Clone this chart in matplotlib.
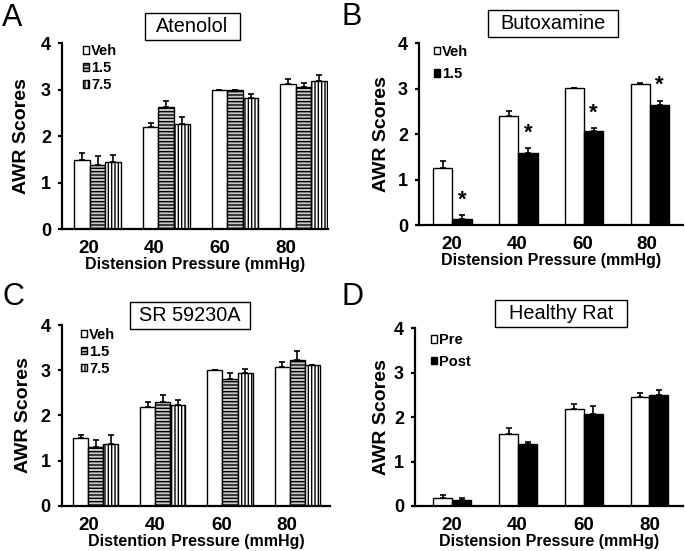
import numpy as np
import matplotlib
matplotlib.use("Agg")
import matplotlib.pyplot as plt
from matplotlib.patches import Rectangle

plt.rcParams['font.family'] = ['Liberation Sans', 'DejaVu Sans']
plt.rcParams['hatch.linewidth'] = 1.0

pressures = ["20", "40", "60", "80"]

# Panel A - Atenolol
aten_veh = [1.50, 2.19, 3.00, 3.12]
aten_veh_err = [0.15, 0.09, 0.0, 0.12]
aten_15 = [1.38, 2.62, 3.00, 3.07]
aten_15_err = [0.20, 0.14, 0.0, 0.07]
aten_75 = [1.45, 2.26, 2.82, 3.19]
aten_75_err = [0.14, 0.16, 0.08, 0.13]

# Panel B - Butoxamine
buto_veh = [1.26, 2.40, 3.02, 3.10]
buto_veh_err = [0.15, 0.12, 0.0, 0.02]
buto_15 = [0.14, 1.59, 2.08, 2.64]
buto_15_err = [0.07, 0.11, 0.05, 0.10]

# Panel C - SR 59230A
sr_veh = [1.50, 2.19, 3.00, 3.07]
sr_veh_err = [0.06, 0.10, 0.0, 0.10]
sr_15 = [1.31, 2.30, 2.80, 3.23]
sr_15_err = [0.15, 0.15, 0.13, 0.20]
sr_75 = [1.37, 2.24, 2.93, 3.11]
sr_75_err = [0.20, 0.10, 0.10, 0.0]

# Panel D - Healthy rat
healthy_pre = [0.19, 1.62, 2.18, 2.45]
healthy_pre_err = [0.05, 0.13, 0.11, 0.10]
healthy_post = [0.13, 1.40, 2.06, 2.50]
healthy_post_err = [0.06, 0.05, 0.20, 0.10]

W, H = 685, 551

white = dict(face='white', hatch=None)
hstripe = dict(face='#c8c8c8', hatch='-----')
vstripe = dict(face='white', hatch='|||||')
black = dict(face='black', hatch=None)

panels = [
    dict(letter="A", title="Atenolol", box=(145, 13, 95, 27), letter_xy=(2, 3),
         ax_px=(62, 43.3, 328, 229.3), width=0.227, xlim=(-0.517, 3.355),
         tick_x=[-0.134, 0.822, 1.783, 2.744],
         series=[(aten_veh, aten_veh_err), (aten_15, aten_15_err), (aten_75, aten_75_err)],
         labels=["Veh", "1.5", "7.5"], styles=[white, hstripe, vstripe],
         leg=(0.080, 0.994), spacing=0.2, ylab_off=32, stars=False),
    dict(letter="B", title="Butoxamine", box=(488, 10, 130, 27), letter_xy=(341, 2),
         ax_px=(419, 43.3, 683, 225), width=0.293, xlim=(-0.505, 3.5),
         tick_x=[-0.009, 0.977, 1.979, 2.95],
         series=[(buto_veh, buto_veh_err), (buto_15, buto_15_err)],
         labels=["Veh", "1.5"], styles=[white, black],
         leg=(0.058, 0.993), spacing=0.6, ylab_off=29, stars=True),
    dict(letter="C", title="SR 59230A", box=(130, 302, 120, 26.5), letter_xy=(2, 282),
         ax_px=(61.7, 325, 330, 505.7), width=0.224, xlim=(-0.508, 3.49),
         tick_x=[-0.112, 0.883, 1.877, 2.846],
         series=[(sr_veh, sr_veh_err), (sr_15, sr_15_err), (sr_75, sr_75_err)],
         labels=["Veh", "1.5", "7.5"], styles=[white, hstripe, vstripe],
         leg=(0.073, 0.984), spacing=0.2, ylab_off=30, stars=False),
    dict(letter="D", title="Healthy Rat", box=(495, 300, 132, 27), letter_xy=(341, 282),
         ax_px=(415, 328.3, 683, 506), width=0.288, xlim=(-0.568, 3.51),
         tick_x=[-0.009, 0.98, 1.995, 3.0],
         series=[(healthy_pre, healthy_pre_err), (healthy_post, healthy_post_err)],
         labels=["Pre", "Post"], styles=[white, black],
         leg=(0.059, 0.973), spacing=0.52, ylab_off=25, stars=False),
]

fig = plt.figure(figsize=(W / 100, H / 100), dpi=100)

for p in panels:
    l, t, r, b = p['ax_px']
    ax = fig.add_axes([l / W, 1 - b / H, (r - l) / W, (b - t) / H])
    x = np.arange(len(pressures))
    n = len(p['series'])
    offsets = (np.arange(n) - (n - 1) / 2) * p['width']
    for (vals, errs), lab, st, off in zip(p['series'], p['labels'], p['styles'], offsets):
        ax.bar(x + off, vals, p['width'], label=lab, color=st['face'],
               edgecolor='black', hatch=st['hatch'], linewidth=1.0, zorder=2)
        ax.errorbar(x + off, vals, yerr=[np.zeros(len(errs)), errs], fmt='none',
                    ecolor='black', elinewidth=1.2, capsize=2.5, capthick=1.2, zorder=3)
        if p['stars'] and st is black:
            for xi, v, e in zip(x + off, vals, errs):
                ax.text(xi, v + e + 0.33, "*", ha='center', va='center',
                        fontsize=16, fontweight='bold')

    ax.set_xlim(*p['xlim'])
    ax.set_ylim(0, 4)
    ax.set_yticks([0, 1, 2, 3, 4])
    ax.set_xticks(p['tick_x'])
    ax.set_xticklabels(pressures)
    for s in ['top', 'right']:
        ax.spines[s].set_visible(False)
    for s in ['left', 'bottom']:
        ax.spines[s].set_linewidth(1.6)
    ax.tick_params(axis='y', direction='out', length=3, width=1.6, pad=5, labelsize=13)
    ax.tick_params(axis='x', length=0, pad=8, labelsize=13.5)
    for lab in ax.get_xticklabels() + ax.get_yticklabels():
        lab.set_fontweight('bold')
    ax.set_xlabel("Distension Pressure (mmHg)" if p['letter'] != "C" else "Distention Pressure (mmHg)",
                  fontsize=11.5, fontweight='bold', labelpad=0)
    ax.set_ylabel("AWR Scores", fontsize=14, fontweight='bold')
    ax.yaxis.set_label_coords(-p['ylab_off'] / (r - l), 0.5)

    ax.legend(loc='upper left', bbox_to_anchor=p['leg'], frameon=False,
              prop=dict(size=10.5, weight='bold'), handlelength=0.42, handleheight=0.42,
              handletextpad=0.12, labelspacing=p['spacing'], borderpad=0, borderaxespad=0)

    bx, by, bw, bh = p['box']
    fig.add_artist(Rectangle((bx / W, 1 - (by + bh) / H), bw / W, bh / H,
                             transform=fig.transFigure, facecolor='white',
                             edgecolor='black', linewidth=1.0))
    fig.text((bx + bw / 2) / W, 1 - (by + bh / 2) / H, p['title'],
             ha='center', va='center', fontsize=14.3)
    lx, ly = p['letter_xy']
    fig.text(lx / W, 1 - ly / H, p['letter'], ha='left', va='top', fontsize=22)

fig.savefig("out.png", dpi=100)
